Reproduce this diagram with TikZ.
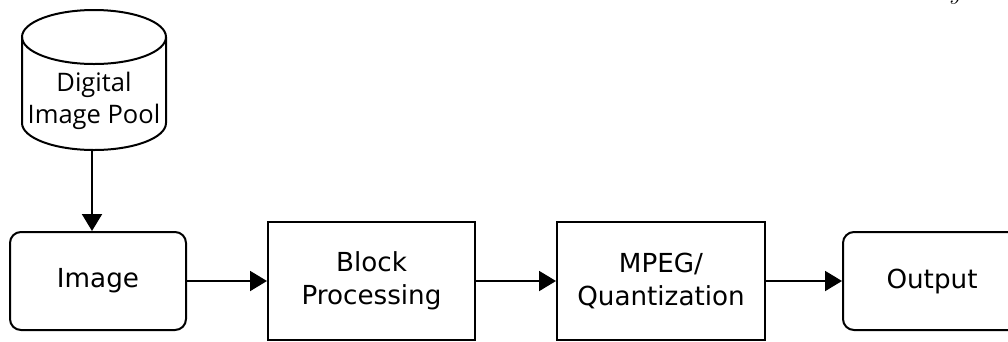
\documentclass[tikz,border=0pt]{standalone}
\usepackage{fontspec}
\setmainfont{DejaVu Sans}
\newfontfamily\poolfont{Open Sans}
\usetikzlibrary{arrows.meta}
\begin{document}
\begin{tikzpicture}[x=1pt,y=-1pt,
  line width=2pt,
  boxtext/.style={font=\fontsize{26.2}{32.5}\selectfont, align=center, inner sep=0pt},
  roundbox/.style={boxtext, draw, rounded corners=11pt, minimum height=98pt},
  squarebox/.style={boxtext, draw, minimum width=207pt, minimum height=118pt},
  flow/.style={-{Triangle[length=17pt,width=20pt]}}]
  \useasboundingbox (0,0) rectangle (1008,341);

  % fragment of a caption symbol above the frame
  \node[anchor=base, inner sep=0pt, font=\fontsize{24}{24}\selectfont] (ysym) at (956,-1) {$y$};

  % image pool drawn as a cylinder (y axis points down here)
  \draw (94,37) ellipse [x radius=72, y radius=27];
  \draw (22,37) -- (22,123) arc [start angle=180, end angle=0, x radius=72, y radius=27] -- (166,37);
  \node[inner sep=0pt, align=center, font=\poolfont\fontsize{25.5}{32}\selectfont] (pool) at (94,101) {Digital\\Image Pool};
  \coordinate (poolbase) at (92,150);

  % processing chain
  \node[roundbox, minimum width=176pt] (img) at (98,281) {Image};
  \node[squarebox] (blk) at (371.5,281) {Block\\Processing};
  \node[squarebox, minimum width=208pt] (mpeg) at (661,281) {MPEG/\\Quantization};
  \node[roundbox, minimum width=178pt] (out) at (932,281) {Output};

  \draw[flow] (poolbase) -- (poolbase |- img.north);
  \draw[flow] (img.east) -- (blk.west);
  \draw[flow] (blk.east) -- (mpeg.west);
  \draw[flow] (mpeg.east) -- (out.west);
\end{tikzpicture}
\end{document}
